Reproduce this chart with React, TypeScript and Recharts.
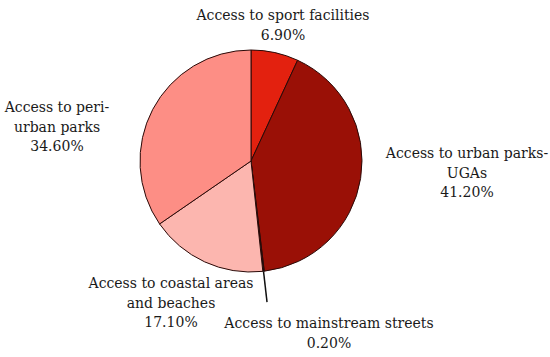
import { PieChart, Pie, Cell } from "recharts";

const categories = [
  "Access to sport facilities",
  "Access to urban parks-UGAs",
  "Access to mainstream streets",
  "Access to coastal areas and beaches",
  "Access to peri-urban parks",
];
const shares = [6.9, 41.2, 0.2, 17.1, 34.6];
const labelLines = [
  ["Access to sport facilities", "6.90%"],
  ["Access to urban parks-", "UGAs", "41.20%"],
  ["Access to mainstream streets", "0.20%"],
  ["Access to coastal areas", "and beaches", "17.10%"],
  ["Access to peri-", "urban parks", "34.60%"],
];

const colors = ["#e3210f", "#9a1006", "#111111", "#fcb6af", "#fd8e85"];
// label anchor offsets from pie centre (x, baseline of first line)
const labelPos = [
  [32, -141],
  [216, -3],
  [78, 167],
  [-80, 127],
  [-194, -49],
];

const data = categories.map((name, i) => ({ name, value: shares[i] }));

const RAD = Math.PI / 180;
const FONT = "'DejaVu Serif', 'Liberation Serif', serif";

function SliceLabel(props: any) {
  const { cx, cy, midAngle, outerRadius, index } = props;
  const [dx, dy] = labelPos[index];
  const lines = labelLines[index];
  let leader = null;
  if (index === 2) {
    const cos = Math.cos(-midAngle * RAD);
    const sin = Math.sin(-midAngle * RAD);
    leader = (
      <line
        x1={cx + outerRadius * cos}
        y1={cy + outerRadius * sin}
        x2={cx + outerRadius * 1.28 * cos}
        y2={cy + outerRadius * 1.28 * sin}
        stroke="#111"
        strokeWidth={1.5}
      />
    );
  }
  return (
    <g>
      {leader}
      <text
        x={cx + dx}
        y={cy + dy}
        textAnchor="middle"
        fill="#1a1a1a"
        stroke="none"
        fontFamily={FONT}
        style={{ fontFamily: FONT, fontSize: 14 }}
      >
        {lines.map((l, i) => (
          <tspan key={i} x={cx + dx} dy={i === 0 ? 0 : 19.5}>
            {l}
          </tspan>
        ))}
      </text>
    </g>
  );
}

export default function App() {
  return (
    <div style={{ width: 550, height: 357, background: "#fff" }}>
      <style>{`body{margin:0}`}</style>
      <PieChart
        width={550}
        height={357}
        margin={{ top: 0, right: 0, bottom: 0, left: 0 }}
      >
        <Pie
          data={data}
          dataKey="value"
          nameKey="name"
          cx={251}
          cy={161}
          outerRadius={111}
          startAngle={90}
          endAngle={-270}
          stroke="#2a0a08"
          strokeWidth={1}
          label={SliceLabel}
          labelLine={false}
          isAnimationActive={false}
        >
          {data.map((d, i) => (
            <Cell key={d.name} fill={colors[i]} />
          ))}
        </Pie>
      </PieChart>
    </div>
  );
}
